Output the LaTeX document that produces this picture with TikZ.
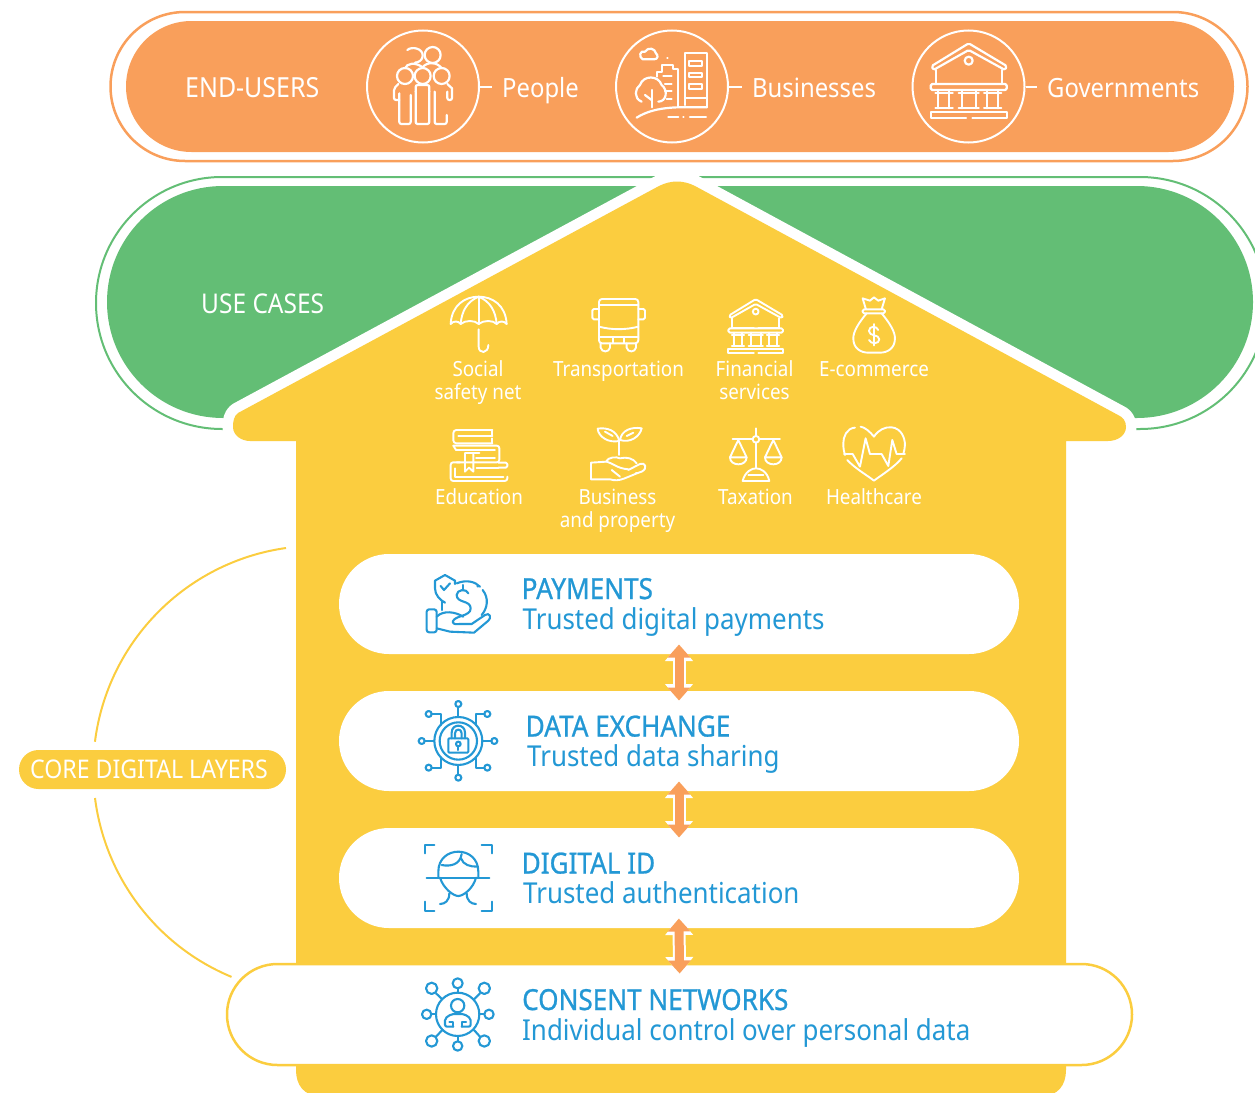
\documentclass[tikz,border=0pt]{standalone}
\usepackage{fontspec}
\usetikzlibrary{arrows.meta, shapes.misc}
\newfontfamily\notocond[FakeStretch=0.9]{Noto Sans}
\newfontfamily\notohead[FakeStretch=0.9,FakeBold=0.8]{Noto Sans}
\definecolor{endorange}{HTML}{F99F5B}
\definecolor{usegreen}{HTML}{63BE75}
\definecolor{coreyellow}{HTML}{FBCD3F}
\definecolor{layerblue}{HTML}{2398D5}
\tikzset{
	pill/.style={rounded rectangle, inner sep=0pt, outer sep=0pt},
	banner/.style={white, inner sep=0pt, anchor=base west, font=\notocond\fontsize{26.5}{26.5}\selectfont},
	itemlabel/.style={white, inner sep=0pt, align=center, font=\notocond\fontsize{20.9}{23}\selectfont},
	layertitle/.style={layerblue, inner sep=0pt, anchor=base west, font=\notohead\fontsize{29}{29}\selectfont},
	layersub/.style={layerblue, inner sep=0pt, anchor=base west, font=\notocond\fontsize{28.8}{28.8}\selectfont},
	halo/.style={white, line width=13pt, shorten >=-10pt, shorten <=-10pt, {Triangle[length=17pt,width=27pt]}-{Triangle[length=17pt,width=27pt]}},
	layerlink/.style={endorange, line width=9pt, shorten >=-9.5pt, shorten <=-9.5pt, {Triangle[length=13pt,width=22pt]}-{Triangle[length=13pt,width=22pt]}},
	leader/.style={draw=white, line width=2pt, shorten >=10pt},
	zoomed/.style={x=0.3333pt, y=-0.3333pt, line cap=round, line join=round},
	iconwhite/.style={zoomed, draw=white, white, line width=1.9pt},
	iconblue/.style={zoomed, draw=layerblue, layerblue, line width=2.1pt},
	bank/.pic={
		% roof and walls
		\draw[rounded corners=1.5pt] (0,-110) -- (114,-42) -- (109,-30) -- (0,-90) -- (-106,-30) -- (-111,-42) -- cycle;
		\draw (0,-58) circle [radius=12];
		\draw (-98,-30) -- (-98,12) -- (-8,12);
		\draw (99,-30) -- (99,12) -- (11,12);
		% beam, columns, floor
		\draw[rounded corners=1.5pt] (-114,12) rectangle (114,30);
		\draw (-91,30) -- (-91,85);
		\draw (-58,30) -- (-58,85);
		\draw (-21,30) -- (-21,85);
		\draw (22,30) -- (22,85);
		\draw (54,30) -- (54,85);
		\draw (89,30) -- (89,85);
		\draw (-100,40) -- (-48,40);
		\draw (-30,40) -- (30,40);
		\draw (46,40) -- (98,40);
		\draw (-100,85) -- (-48,85);
		\draw (-30,85) -- (30,85);
		\draw (46,85) -- (98,85);
		\draw (-8,115) -- (-114,115) -- (-114,97) -- (114,97) -- (114,115) -- (11,115);
	}
}
\begin{document}
\begin{tikzpicture}[x=1pt, y=1pt]
	\useasboundingbox (0,0) rectangle (1255,-1092);
	
	% End-users band
	\node[pill, draw=endorange, line width=2.5pt, minimum width=1137pt, minimum height=149pt] (endring) at (679,-86.5) {};
	\node[pill, fill=endorange, minimum width=1108pt, minimum height=131pt] (endband) at (680,-86.5) {};
	
	% Use cases band
	\node[pill, draw=usegreen, line width=2pt, minimum width=1170pt, minimum height=252pt] (usering) at (681,-303) {};
	\node[pill, fill=usegreen, minimum width=1146pt, minimum height=232pt] (useband) at (680,-302) {};
	
	% House
	\filldraw[coreyellow, draw=white, line width=21pt, line join=round] (238,-413) .. controls (234,-416) and (233,-421) .. (233,-427) .. controls (233,-435) and (241,-441) .. (250,-441) -- (296,-441) -- (296,-1070) .. controls (296,-1085) and (304,-1096) .. (320,-1096) -- (1042,-1096) .. controls (1058,-1096) and (1066,-1085) .. (1066,-1070) -- (1066,-441) -- (1108,-441) .. controls (1118,-441) and (1126,-435) .. (1126,-427) .. controls (1126,-421) and (1123,-417) .. (1118,-415) -- (695,-186) .. controls (683,-180) and (671,-180) .. (659,-186) -- cycle;
	\fill[coreyellow] (238,-413) .. controls (234,-416) and (233,-421) .. (233,-427) .. controls (233,-435) and (241,-441) .. (250,-441) -- (296,-441) -- (296,-1070) .. controls (296,-1085) and (304,-1096) .. (320,-1096) -- (1042,-1096) .. controls (1058,-1096) and (1066,-1085) .. (1066,-1070) -- (1066,-441) -- (1108,-441) .. controls (1118,-441) and (1126,-435) .. (1126,-427) .. controls (1126,-421) and (1123,-417) .. (1118,-415) -- (695,-186) .. controls (683,-180) and (671,-180) .. (659,-186) -- cycle;
	
	% Band labels
	\node[banner, font=\notocond\fontsize{27.7}{27.7}\selectfont] (endlabel) at (185,-97) {END-USERS};
	\node[banner, font=\notocond\fontsize{27.2}{27.2}\selectfont] (uselabel) at (201,-313) {USE CASES};
	
	% End-user circles
	\node[circle, draw=white, line width=2pt, minimum size=112pt, inner sep=0pt] (people) at (423,-86.5) {};
	\node[circle, draw=white, line width=2pt, minimum size=112pt, inner sep=0pt] (business) at (672,-86.5) {};
	\node[circle, draw=white, line width=2pt, minimum size=112pt, inner sep=0pt] (government) at (968.5,-86.5) {};
	\node[banner] (peoplelabel) at (502,-97.5) {People};
	\node[banner] (businesslabel) at (752,-97.5) {Businesses};
	\node[banner] (governmentlabel) at (1047,-97.5) {Governments};
	\draw[leader] (people.east) -- (people.east -| peoplelabel.west);
	\draw[leader] (business.east) -- (business.east -| businesslabel.west);
	\draw[leader] (government.east) -- (government.east -| governmentlabel.west);
	
	% People icon
	\begin{scope}[shift={(350,-20)}, iconwhite, line width=2.2pt]
		\draw (165,168) circle [radius=24];
		\draw (218,168) circle [radius=24];
		\draw (275,168) circle [radius=24];
		\draw (248,105) circle [radius=24];
		\draw (172,90) .. controls (185,78) and (220,85) .. (218,108) .. controls (218,120) and (205,128) .. (195,128);
		\draw (165,145) .. controls (170,130) and (195,125) .. (218,142) .. controls (230,125) and (262,125) .. (275,145);
		\draw[rounded corners=2pt] (148,220) -- (148,312) -- (182,312) -- (182,225);
		\draw[rounded corners=2pt] (148,240) -- (132,240) -- (132,205) -- (145,192);
		\draw[rounded corners=2pt] (197,215) -- (197,312) -- (238,312) -- (238,215);
		\draw[rounded corners=2pt] (197,215) -- (197,195) -- (238,195) -- (238,215);
		\draw[rounded corners=2pt] (254,215) -- (254,312) -- (290,312) -- (290,285);
		\draw[rounded corners=2pt] (306,205) -- (306,240) -- (292,240) -- (292,215);
		\draw[rounded corners=2pt] (292,192) -- (306,205);
	\end{scope}
	
	% Businesses icon
	\begin{scope}[shift={(350,-20)}, iconwhite, line width=2.2pt]
		\draw (1005,255) -- (1005,100) -- (1070,100) -- (1070,262);
		\draw (1005,235) -- (1070,235);
		\draw (1018,123) rectangle (1055,138);
		\draw (1018,158) rectangle (1055,172);
		\draw (1018,193) rectangle (1055,208);
		\draw (920,170) -- (920,155) -- (935,155) -- (935,135) -- (970,135) -- (970,148) -- (985,148) -- (985,258);
		\draw (940,168) -- (965,168);
		\draw (945,192) -- (965,192);
		\draw (945,214) -- (965,214);
		\draw (950,238) -- (965,238);
		\draw (875,245) .. controls (850,235) and (855,205) .. (870,195) .. controls (880,165) and (925,165) .. (935,195) .. controls (955,210) and (950,245) .. (925,245);
		\draw (905,210) -- (905,262);
		\draw (905,240) -- (885,225);
		\draw (860,293) .. controls (920,255) and (1000,262) .. (1070,262);
		\draw (955,292) -- (985,292);
		\draw (1000,292) -- (1001,292);
		\draw (1020,292) -- (1068,292);
		\draw (878,118) .. controls (865,110) and (870,90) .. (885,95) .. controls (895,80) and (915,85) .. (918,100) .. controls (925,105) and (925,118) .. (912,118) -- cycle;
		\draw (952,115) -- (953,115);
	\end{scope}
	
	% Governments icon
	\coordinate (govicon) at (968.7,-80);
	\pic[iconwhite, line width=2.2pt] at (govicon) {bank};
	
	% Use case icons
	% Umbrella
	\begin{scope}[shift={(420,-280)}, iconwhite]
		\draw (92,132) .. controls (95,75) and (135,50) .. (176,50) .. controls (217,50) and (257,75) .. (260,132);
		\draw (92,132) .. controls (100,122) and (115,122) .. (122,132) .. controls (135,120) and (165,120) .. (176,132) .. controls (190,120) and (220,120) .. (230,132) .. controls (238,122) and (252,122) .. (260,132);
		\draw (176,50) -- (176,132);
		\draw (176,50) .. controls (140,65) and (125,95) .. (122,132);
		\draw (176,50) .. controls (212,65) and (227,95) .. (230,132);
		\draw (176,148) -- (176,200) .. controls (176,222) and (205,222) .. (205,195);
		
		% Bus
		\draw[rounded corners=3pt] (537,190) -- (537,57) -- (655,57) -- (655,190) -- cycle;
		\draw (537,75) -- (655,75);
		\draw (537,140) .. controls (575,150) and (617,150) .. (655,140);
		\draw (537,170) -- (655,170);
		\draw (578,172) -- (578,188);
		\draw (612,172) -- (612,188);
		\draw (578,172) -- (612,172);
		\draw (542,190) -- (542,203) .. controls (545,218) and (567,218) .. (570,203) -- (570,190);
		\draw (620,190) -- (620,203) .. controls (623,218) and (645,218) .. (648,203) -- (648,190);
		\draw[rounded corners=1.5pt] (537,87) -- (517,87) -- (517,118) -- (537,118);
		\draw[rounded corners=1.5pt] (655,87) -- (675,87) -- (675,118) -- (655,118);
		
		% Money bag
		\draw (1338,88) -- (1328,55) -- (1350,62) -- (1362,52) -- (1375,62) -- (1395,55) -- (1385,88);
		\draw[rounded corners=1.5pt] (1328,88) rectangle (1395,100);
		\draw (1340,100) .. controls (1315,130) and (1300,155) .. (1300,175) .. controls (1300,205) and (1322,218) .. (1345,218) -- (1380,218) .. controls (1403,218) and (1425,205) .. (1425,175) .. controls (1425,155) and (1410,130) .. (1385,100);
		\draw (1375,150) .. controls (1370,137) and (1347,137) .. (1347,153) .. controls (1347,170) and (1378,162) .. (1378,178) .. controls (1378,193) and (1352,193) .. (1347,180);
		\draw (1362,132) -- (1362,196);
		
		% Education
		\draw[rounded corners=3pt] (217,450) -- (100,450) -- (100,490) -- (217,490);
		\draw (115,467) -- (217,467);
		\draw (217,450) -- (217,467);
		\draw (217,475) -- (217,490);
		\draw[rounded corners=2.5pt] (100,497) -- (238,497) -- (238,547) -- (110,547);
		\draw (100,497) -- (108,510) -- (225,510);
		\draw (225,535) -- (168,535);
		\draw (135,520) -- (178,520);
		\draw (135,520) -- (135,575) -- (147,563) -- (160,575) -- (160,523);
		\draw[rounded corners=2.5pt] (120,547) -- (92,547) -- (92,603) -- (262,603) -- (262,590);
		\draw (105,565) -- (105,590) -- (250,590);
		\draw (170,565) -- (235,565);
		\draw[rounded corners=1.5pt] (235,548) -- (262,548) -- (262,563) -- (235,563);
		
		% Plant in hand
		\draw (598,525) -- (598,478);
		\draw (598,483) .. controls (590,450) and (560,442) .. (533,446) .. controls (535,470) and (565,490) .. (598,483);
		\draw (600,480) .. controls (605,450) and (635,440) .. (665,445) .. controls (660,470) and (630,490) .. (600,480);
		\draw (555,455) -- (578,468);
		\draw (640,458) -- (620,468);
		\draw (558,545) .. controls (565,530) and (590,530) .. (600,535) .. controls (620,530) and (640,535) .. (650,550);
		\draw (513,550) -- (513,598) -- (570,598) .. controls (600,608) and (620,590) .. (665,575) .. controls (685,565) and (675,545) .. (660,552) -- (625,570);
		\draw (513,548) -- (560,545) .. controls (580,550) and (590,565) .. (625,568);
		\draw (575,570) -- (600,590);
		\draw (648,578) -- (650,578);
		
		% Scales
		\draw (1008,445) -- (1008,468);
		\draw (1008,478) circle [radius=10];
		\draw (1008,488) -- (1008,565);
		\draw (938,478) -- (998,478);
		\draw (1018,478) -- (1080,478);
		\draw (955,480) -- (930,532) -- (980,532) -- cycle;
		\draw (930,532) .. controls (930,560) and (980,560) .. (980,532);
		\draw (1060,480) -- (1035,532) -- (1085,532) -- cycle;
		\draw (1035,532) .. controls (1035,560) and (1085,560) .. (1085,532);
		\draw (968,603) .. controls (975,575) and (995,565) .. (1008,565) .. controls (1022,565) and (1042,575) .. (1048,603) -- cycle;
		\draw (985,585) -- (1030,585);
		
		% Heart
		\draw (1305,443) .. controls (1280,445) and (1270,470) .. (1270,490) .. controls (1270,505) and (1272,515) .. (1275,525);
		\draw (1322,440) .. controls (1335,442) and (1350,455) .. (1362,470) .. controls (1375,450) and (1395,440) .. (1415,442) .. controls (1445,445) and (1455,475) .. (1455,495) .. controls (1455,505) and (1452,515) .. (1450,522);
		\draw (1272,522) -- (1298,522) -- (1320,560) -- (1337,475) -- (1350,522) -- (1385,522) -- (1405,558) -- (1417,480) -- (1430,522) -- (1455,522);
		\draw (1282,540) .. controls (1305,565) and (1340,585) .. (1362,602) .. controls (1385,585) and (1425,560) .. (1445,535);
	\end{scope}
	
	% Financial services icon
	\coordinate (bankicon) at (755.7,-325.5);
	\pic[iconwhite, x=0.2396pt, y=-0.2396pt] at (bankicon) {bank};
	
	% Use case labels
	\node[itemlabel] (social) at (478,-382.5) {Social\\safety net};
	\node[itemlabel] (transport) at (618.5,-371) {Transportation};
	\node[itemlabel] (financial) at (754.5,-380.5) {Financial\\services};
	\node[itemlabel] (ecommerce) at (874,-369) {E-commerce};
	\node[itemlabel] (education) at (479,-497) {Education};
	\node[itemlabel] (property) at (617.5,-510.5) {Business\\and property};
	\node[itemlabel] (taxation) at (755.5,-497) {Taxation};
	\node[itemlabel] (health) at (874,-497) {Healthcare};
	
	% Core digital layers
	\node[pill, fill=white, minimum width=680pt, minimum height=100pt] (payments) at (679,-604) {};
	\node[pill, fill=white, minimum width=680pt, minimum height=100pt] (exchange) at (679,-741) {};
	\node[pill, fill=white, minimum width=680pt, minimum height=100pt] (digitalid) at (679,-878) {};
	\node[pill, fill=white, draw=coreyellow, line width=2.5pt, minimum width=905pt, minimum height=101pt] (consent) at (679.5,-1014.5) {};
	
	% Layer arrows
	\draw[halo] (payments.south) -- (exchange.north);
	\draw[layerlink] (payments.south) -- (exchange.north);
	\draw[halo] (exchange.south) -- (digitalid.north);
	\draw[layerlink] (exchange.south) -- (digitalid.north);
	\draw[halo] (digitalid.south) -- (consent.north);
	\draw[layerlink] (digitalid.south) -- (consent.north);
	
	% Layer texts
	\node[layertitle] (paytitle) at (521.5,-599) {PAYMENTS};
	\node[layersub] (paysub) at (522.5,-629) {Trusted digital payments};
	\node[layertitle] (datatitle) at (525.5,-736.5) {DATA EXCHANGE};
	\node[layersub] (datasub) at (527,-766) {Trusted data sharing};
	\node[layertitle] (idtitle) at (521.5,-873.5) {DIGITAL ID};
	\node[layersub] (idsub) at (523,-903) {Trusted authentication};
	\node[layertitle] (consenttitle) at (522,-1010) {CONSENT NETWORKS};
	\node[layersub] (consentsub) at (522,-1040) {Individual control over personal data};
	
	% Payments icon
	\begin{scope}[shift={(400,-560)}, iconblue]
		\draw (135,45) -- (105,62) -- (105,85) .. controls (105,105) and (120,120) .. (135,128);
		\draw (135,45) -- (165,62) -- (165,72);
		\draw (122,78) -- (132,90) -- (150,70);
		\draw (170,70) .. controls (200,58) and (225,65) .. (240,80);
		\draw (232,78) -- (234,80);
		\draw (248,90) .. controls (268,115) and (262,145) .. (245,165);
		\draw (125,125) -- (125,150);
		\draw (205,100) .. controls (200,85) and (170,88) .. (170,105) .. controls (170,130) and (212,120) .. (212,145) .. controls (212,170) and (165,165) .. (158,185) .. controls (160,195) and (170,192) .. (180,192) -- (215,192) -- (255,165) .. controls (270,155) and (275,175) .. (265,182) -- (222,218) -- (150,215) -- (110,205);
		\draw (190,90) -- (190,75);
		\draw (110,170) .. controls (130,150) and (165,155) .. (190,170);
		\draw[rounded corners=2.5pt] (80,148) rectangle (110,217);
	\end{scope}
	
	% Data exchange icon
	\begin{scope}[shift={(400,-560)}, iconblue]
		\draw (175,543) circle [radius=72];
		\draw (175,543) circle [radius=56];
		\draw[rounded corners=1pt] (145,535) rectangle (205,578);
		\draw (155,535) -- (155,518) .. controls (155,490) and (195,490) .. (195,518) -- (195,535);
		\draw (165,535) -- (165,520) .. controls (165,505) and (185,505) .. (185,520) -- (185,535);
		\draw (175,552) circle [radius=7];
		\draw (175,559) -- (175,570);
		\draw (175,471) -- (175,441);
		\draw (175,432) circle [radius=9];
		\draw (175,615) -- (175,644);
		\draw (175,653) circle [radius=9];
		\draw (103,543) -- (74,543);
		\draw (65,543) circle [radius=9];
		\draw (247,543) -- (274,543);
		\draw (283,543) circle [radius=9];
		\draw (122,495) -- (122,462) -- (95,462);
		\draw (86,462) circle [radius=9];
		\draw (228,495) -- (228,462) -- (253,462);
		\draw (262,462) circle [radius=9];
		\draw (122,592) -- (122,623) -- (95,623);
		\draw (86,623) circle [radius=9];
		\draw (228,592) -- (228,623) -- (253,623);
		\draw (262,623) circle [radius=9];
	\end{scope}
	
	% Digital ID icon
	\begin{scope}[shift={(400,-830)}, iconblue]
		\draw (75,70) -- (75,45) -- (103,45);
		\draw (245,45) -- (275,45) -- (275,70);
		\draw (75,215) -- (75,243) -- (103,243);
		\draw (245,243) -- (275,243) -- (275,215);
		\draw (80,143) -- (268,143);
		\draw (115,143) -- (115,125) .. controls (115,45) and (235,45) .. (235,125) -- (235,143);
		\draw (120,143) .. controls (130,175) and (160,198) .. (175,198) .. controls (190,198) and (220,175) .. (228,143);
		\draw (125,105) .. controls (150,110) and (180,105) .. (185,72);
		\draw (183,85) .. controls (190,105) and (210,110) .. (232,110);
		\draw (148,190) .. controls (148,212) and (135,222) .. (120,222);
		\draw (200,190) .. controls (200,212) and (213,222) .. (228,222);
	\end{scope}
	
	% Consent networks icon
	\begin{scope}[shift={(400,-830)}, iconblue]
		\draw (173,553) circle [radius=65];
		\draw (173,527) circle [radius=20];
		\draw[rounded corners=2pt] (160,590) -- (135,590) -- (135,565) -- (155,552) -- (192,552) -- (212,565) -- (212,590) -- (185,590);
		\draw (160,590) -- (160,575) -- (148,575);
		\draw (185,590) -- (185,575) -- (198,575);
		\draw (173,460) circle [radius=15];
		\draw (173,475) -- (173,488);
		\draw (173,648) circle [radius=14];
		\draw (173,618) -- (173,634);
		\draw (80,553) circle [radius=14];
		\draw (94,553) -- (108,553);
		\draw (267,553) circle [radius=14];
		\draw (238,553) -- (253,553);
		\draw (95,475) circle [radius=17];
		\draw (108,490) -- (127,508);
		\draw (253,475) circle [radius=17];
		\draw (240,490) -- (222,508);
		\draw (95,633) circle [radius=17];
		\draw (108,620) -- (127,600);
		\draw (253,633) circle [radius=17];
		\draw (240,620) -- (222,600);
	\end{scope}
	
	% Core digital layers bracket
	\node[pill, fill=coreyellow, minimum width=267pt, minimum height=39pt] (corepill) at (152.5,-769.5) {};
	\node[white, inner sep=0pt, anchor=base west, font=\notocond\fontsize{25.7}{25.7}\selectfont] (corelabel) at (30,-778) {CORE DIGITAL LAYERS};
	\coordinate (coretop) at (286,-548);
	\coordinate (corelow) at (95,-798);
	\draw[coreyellow, line width=2pt] (coretop) arc (98:172.8:224);
	\draw[coreyellow, line width=2pt] (corelow) arc (187.2:247.5:224);
\end{tikzpicture}
\end{document}
